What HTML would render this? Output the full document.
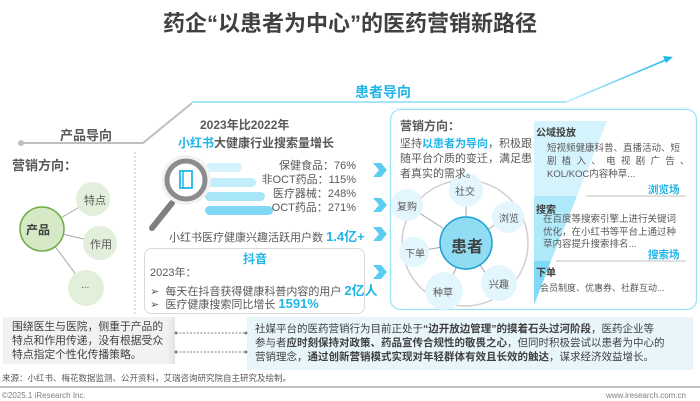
<!DOCTYPE html>
<html><head><meta charset="utf-8"><style>
body{margin:0;width:700px;height:401px;overflow:hidden;background:#fff;font-family:"Liberation Sans","Noto Sans CJK SC",sans-serif;color:#595959;position:relative}
.a{position:absolute;white-space:nowrap}
.b{color:#1fb5e8;font-weight:bold}
</style></head><body>
<svg class="a" style="left:0;top:0" width="700" height="401">
<defs>
<linearGradient id="lg" x1="0" x2="1"><stop offset="0" stop-color="#bfeefc"/><stop offset="1" stop-color="#21b7e9"/></linearGradient>
<linearGradient id="gb" x1="0" x2="1"><stop offset="0" stop-color="#f2f2f2"/><stop offset="0.95" stop-color="#f2f2f2"/><stop offset="1" stop-color="#e4e4e4"/></linearGradient>
</defs>
<circle cx="21" cy="143" r="3" fill="#bfbfbf"/>
<polyline points="21,143 143,143 192,103" fill="none" stroke="#bfbfbf" stroke-width="2"/>
<line x1="192" y1="102" x2="566" y2="102" stroke="#a6e6f8" stroke-width="2"/>
<line x1="566" y1="102" x2="668" y2="59" stroke="url(#lg)" stroke-width="1.5"/>
<path d="M673,57 L663,56 L666,63 Z" fill="#21b7e9"/>
<line x1="390" y1="108" x2="690" y2="108" stroke="#dff5fc" stroke-width="1"/>
<line x1="135" y1="152" x2="135" y2="314" stroke="#bfbfbf" stroke-dasharray="2,2"/>
<line x1="42" y1="229" x2="93" y2="199" stroke="#a6a6a6"/>
<line x1="42" y1="229" x2="100" y2="243" stroke="#a6a6a6"/>
<line x1="42" y1="229" x2="86" y2="288" stroke="#a6a6a6"/>
<circle cx="93" cy="199" r="17" fill="#e2efda"/>
<circle cx="100" cy="243" r="17" fill="#e2efda"/>
<circle cx="86" cy="288" r="18" fill="#e2efda"/>
<circle cx="42" cy="229" r="22" fill="#d6e9c6" stroke="#70ad47" stroke-width="1.5"/>
<rect x="205" y="163" width="37" height="9" rx="4.5" fill="#d5f3fc"/>
<rect x="205" y="178" width="51" height="9" rx="4.5" fill="#c2eefb"/>
<rect x="205" y="192" width="60" height="9" rx="4.5" fill="#a6e6f8"/>
<rect x="205" y="206" width="68" height="9" rx="4.5" fill="#7fd9f4"/>
<line x1="172" y1="203" x2="152" y2="228" stroke="#7f7f7f" stroke-width="6" stroke-linecap="round"/>
<circle cx="186" cy="180" r="25" fill="#f2f2f2"/>
<circle cx="186" cy="180" r="19" fill="#fff" stroke="#8c8c8c" stroke-width="5"/>
<rect x="180" y="171" width="12" height="17" fill="none" stroke="#21b7e9" stroke-width="1.8"/>
<line x1="183" y1="171" x2="183" y2="188" stroke="#21b7e9" stroke-width="1.5"/>
<rect x="144.5" y="248.5" width="220" height="65" rx="7" fill="#fff" stroke="#d9d9d9"/>
<g fill="#5ccdf2">
<path d="M373,163 h8 l6,7 l-6,7 h-8 l6,-7z"/>
<path d="M373,198 h8 l6,7 l-6,7 h-8 l6,-7z"/>
<path d="M373,227 h8 l6,7 l-6,7 h-8 l6,-7z"/>
<path d="M373,265 h8 l6,7 l-6,7 h-8 l6,-7z"/>
</g>
<rect x="390.5" y="109.5" width="306" height="200" rx="10" fill="#fff" stroke="#9ee2f6" stroke-width="1.3"/>
<path d="M534,121 L607,121 L577,196 L534,196Z" fill="#d5f3fc"/>
<path d="M534,196 L577,196 L551,261 L534,261Z" fill="#b0e9f9"/>
<path d="M534,261 L551,261 L534,305Z" fill="#7fd9f4"/>
<line x1="586" y1="196" x2="686" y2="196" stroke="#bfbfbf"/>
<line x1="556" y1="261" x2="686" y2="261" stroke="#bfbfbf"/>
<circle cx="465" cy="243" r="63" fill="none" stroke="#d0d0d0" stroke-width="1.5"/>
<g stroke="#a6a6a6">
<line x1="466" y1="243" x2="466" y2="190"/>
<line x1="466" y1="243" x2="407" y2="205"/>
<line x1="466" y1="243" x2="506" y2="218"/>
<line x1="466" y1="243" x2="413" y2="252"/>
<line x1="466" y1="243" x2="491" y2="282"/>
<line x1="466" y1="243" x2="447" y2="290"/>
</g>
<g fill="#e3f6fd">
<circle cx="466" cy="190" r="17"/>
<circle cx="407" cy="205" r="16"/>
<circle cx="508" cy="217" r="16"/>
<circle cx="414" cy="252" r="15"/>
<circle cx="499" cy="283" r="18"/>
<circle cx="444" cy="291" r="19"/>
</g>
<circle cx="466" cy="243" r="26" fill="#8fdcf3" stroke="#1a9fd6" stroke-width="1.5"/>
<rect x="3" y="317" width="172" height="47" fill="url(#gb)"/>
<rect x="247" y="317" width="446" height="53" fill="#e8f6fb"/>
<g stroke="#7f7f7f" stroke-dasharray="2,1.5"><line x1="176" y1="333" x2="246" y2="333"/><line x1="176" y1="352" x2="246" y2="352"/></g>
<g fill="#7f7f7f"><circle cx="176" cy="333" r="1.5"/><circle cx="246" cy="333" r="1.5"/><circle cx="176" cy="352" r="1.5"/><circle cx="246" cy="352" r="1.5"/></g>
<line x1="0" y1="387" x2="700" y2="387" stroke="#7f7f7f" stroke-width="1"/>
</svg>

<div class="a" style="left:0;width:700px;top:6px;text-align:center;font-size:22px;font-weight:bold;color:#404040">药企“以患者为中心”的医药营销新路径</div>
<div class="a b" style="left:355px;top:82px;font-size:14px">患者导向</div>
<div class="a" style="left:60px;top:125px;font-size:13px;font-weight:bold;color:#595959">产品导向</div>
<div class="a" style="left:12px;top:155px;font-size:13px;font-weight:bold">营销方向：</div>
<div class="a" style="left:26px;top:221px;font-size:12px;font-weight:bold;color:#404040">产品</div>
<div class="a" style="left:84px;top:192px;font-size:11px">特点</div>
<div class="a" style="left:90px;top:236px;font-size:11px">作用</div>
<div class="a" style="left:81px;top:280px;font-size:10px">...</div>

<div class="a" style="left:200px;top:116px;font-size:12px;font-weight:bold">2023年比2022年</div>
<div class="a" style="left:178px;top:134px;font-size:12px;font-weight:bold"><span class="b">小红书</span>大健康行业搜索量增长</div>
<div class="a" style="left:200px;top:159px;width:156px;text-align:right;font-size:11px;line-height:14px">保健食品：76%<br>非OCT药品：115%<br>医疗器械：248%<br>OCT药品：271%</div>
<div class="a" style="left:169px;top:226px;font-size:11px">小红书医疗健康兴趣活跃用户数 <span class="b" style="font-size:13px">1.4亿+</span></div>
<div class="a b" style="left:243px;top:250px;font-size:12px">抖音</div>
<div class="a" style="left:150px;top:264px;font-size:11px">2023年：</div>
<div class="a" style="left:150px;top:280px;font-size:11px">➢&nbsp; 每天在抖音获得健康科普内容的用户 <span class="b" style="font-size:13px">2亿人</span></div>
<div class="a" style="left:150px;top:296px;font-size:11px">➢&nbsp; 医疗健康搜索同比增长 <span class="b" style="font-size:13px">1591%</span></div>

<div class="a" style="left:400px;top:117px;font-size:12px;font-weight:bold">营销方向：</div>
<div class="a" style="left:400px;top:137px;font-size:11px;line-height:15px">坚持<span class="b">以患者为导向</span>，积极跟<br>随平台介质的变迁，满足患<br>者真实的需求。</div>
<div class="a" style="left:455px;top:183px;font-size:10px">社交</div>
<div class="a" style="left:397px;top:198px;font-size:10px">复购</div>
<div class="a" style="left:499px;top:210px;font-size:10px">浏览</div>
<div class="a" style="left:405px;top:245px;font-size:10px">下单</div>
<div class="a" style="left:489px;top:276px;font-size:10px">兴趣</div>
<div class="a" style="left:433px;top:284px;font-size:10px">种草</div>
<div class="a" style="left:451px;top:233px;font-size:16px;font-weight:bold;color:#404040">患者</div>

<div class="a" style="left:536px;top:124px;font-size:10px;font-weight:bold;color:#404040">公域投放</div>
<div class="a" style="left:547px;top:142px;font-size:9.5px;line-height:13px">短视频健康科普、直播活动、短<br>剧&nbsp; 植&nbsp; 入&nbsp; 、&nbsp; 电&nbsp; 视&nbsp; 剧&nbsp; 广&nbsp; 告&nbsp; 、<br>KOL/KOC内容种草...</div>
<div class="a b" style="left:648px;top:182px;font-size:10.5px">浏览场</div>
<div class="a" style="left:536px;top:201px;font-size:10px;font-weight:bold;color:#404040">搜索</div>
<div class="a" style="left:543px;top:214px;font-size:9.5px;line-height:12.5px">在百度等搜索引擎上进行关键词<br>优化，在小红书等平台上通过种<br>草内容提升搜索排名...</div>
<div class="a b" style="left:648px;top:247px;font-size:10.5px">搜索场</div>
<div class="a" style="left:536px;top:264px;font-size:10px;font-weight:bold;color:#404040">下单</div>
<div class="a" style="left:540px;top:281px;font-size:9px">会员制度、优惠券、社群互动...</div>

<div class="a" style="left:12px;top:320px;font-size:10.8px;line-height:14px;color:#404040">围绕医生与医院，侧重于产品的<br>特点和作用传递，没有根据受众<br>特点指定个性化传播策略。</div>
<div class="a" style="left:255px;top:322px;font-size:10.5px;line-height:14px;color:#404040">社媒平台的医药营销行为目前正处于<b>“边开放边管理”的摸着石头过河阶段</b>，医药企业等<br>参与者<b>应时刻保持对政策、药品宣传合规性的敬畏之心</b>，但同时积极尝试以患者为中心的<br>营销理念，<b>通过创新营销模式实现对年轻群体有效且长效的触达</b>，谋求经济效益增长。</div>
<div class="a" style="left:2px;top:372px;font-size:8.5px">来源：小红书、梅花数据监测、公开资料，艾瑞咨询研究院自主研究及绘制。</div>
<div class="a" style="left:2px;top:391px;font-size:8px;color:#7f7f7f">©2025.1 iResearch Inc.</div>
<div class="a" style="right:14px;top:391px;font-size:8px;color:#7f7f7f">www.iresearch.com.cn</div>
</body></html>
